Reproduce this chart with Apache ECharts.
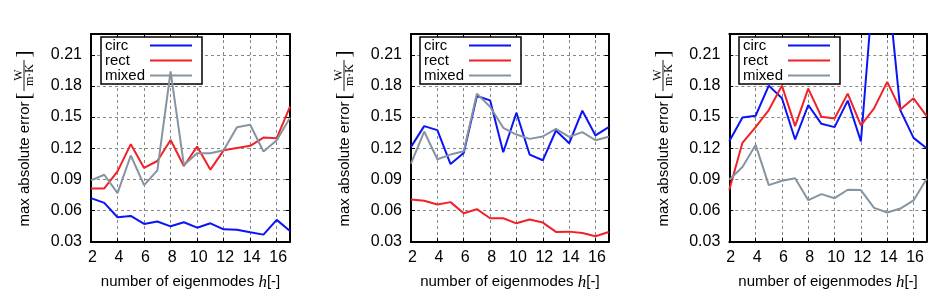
<!DOCTYPE html>
<html>
<head>
<meta charset="utf-8">
<script src="https://cdn.jsdelivr.net/npm/echarts@6/dist/echarts.min.js"></script>
<style>
  html, body { margin: 0; padding: 0; background: #fff; }
  #chart { width: 934px; height: 296px; }
</style>
</head>
<body>
<div id="chart"></div>
<script>
  // number of eigenmodes h
  const modes = [2, 3, 4, 5, 6, 7, 8, 9, 10, 11, 12, 13, 14, 15, 16, 17];

  // left panel
  const circA  = [0.072, 0.0674, 0.0535, 0.0548, 0.0471, 0.0494, 0.0448, 0.0487, 0.0435, 0.0477, 0.0419, 0.0416, 0.039, 0.0368, 0.051, 0.0403];
  const rectA  = [0.0813, 0.0813, 0.0977, 0.1239, 0.101, 0.1077, 0.128, 0.1029, 0.1216, 0.0994, 0.118, 0.1203, 0.1223, 0.1303, 0.1297, 0.16];
  const mixedA = [0.089, 0.0945, 0.0768, 0.113, 0.0845, 0.0987, 0.194, 0.1039, 0.1152, 0.1152, 0.118, 0.1403, 0.1426, 0.1168, 0.1277, 0.1494];

  // middle panel
  const circB  = [0.1213, 0.1413, 0.1374, 0.1048, 0.1155, 0.1703, 0.1661, 0.1161, 0.1542, 0.1139, 0.1084, 0.1371, 0.1248, 0.1561, 0.1323, 0.1403];
  const rectB  = [0.0706, 0.0694, 0.0658, 0.0681, 0.0574, 0.0613, 0.0526, 0.0526, 0.0477, 0.0513, 0.0484, 0.0394, 0.0397, 0.0384, 0.0352, 0.0394];
  const mixedB = [0.1052, 0.1361, 0.1094, 0.1139, 0.1171, 0.1726, 0.16, 0.1397, 0.1332, 0.129, 0.1313, 0.1387, 0.131, 0.1355, 0.1277, 0.131];

  // right panel
  const circC  = [0.1268, 0.1497, 0.1513, 0.1803, 0.1681, 0.1284, 0.1616, 0.1435, 0.1403, 0.1658, 0.1265, 0.285, 0.283, 0.1565, 0.13, 0.12];
  const rectC  = [0.08, 0.1252, 0.1403, 0.1568, 0.1803, 0.1413, 0.1774, 0.1503, 0.1487, 0.1726, 0.1419, 0.1584, 0.1839, 0.1574, 0.1681, 0.151];
  const mixedC = [0.0897, 0.102, 0.1232, 0.0845, 0.0887, 0.091, 0.07, 0.0758, 0.0719, 0.08, 0.0797, 0.0626, 0.0581, 0.0619, 0.0697, 0.0906];

  const names = ['circ', 'rect', 'mixed'];
  const colors = ['#0a14f5', '#f02228', '#8594a0'];

  const panels = [
    { left: 91, width: 199, legendLeft: 101, labelX: 25, lines: [circA, rectA, mixedA] },
    { left: 411, width: 197.7, legendLeft: 420, labelX: 345, lines: [circB, rectB, mixedB] },
    { left: 729.3, width: 197.4, legendLeft: 739, labelX: 664, lines: [circC, rectC, mixedC] }
  ];

  const sans = 'Liberation Sans';
  const serif = 'Liberation Serif';

  const grid = [], xAxis = [], yAxis = [], series = [], legend = [], graphic = [];

  panels.forEach((p, i) => {
    grid.push({ left: p.left, top: 34, width: p.width, height: 207.7 });

    const xBase = {
      type: 'value', gridIndex: i, min: 2, max: 17, interval: 2,
      axisLine: { onZero: false, lineStyle: { color: '#000', width: 2 } },
      axisTick: { inside: true, length: 4, lineStyle: { color: '#000', width: 1 } }
    };
    xAxis.push(Object.assign({}, xBase, {
      position: 'bottom',
      axisLabel: { fontSize: 16, fontFamily: sans, color: '#000', margin: 8, showMaxLabel: false, padding: [0, 0, 0, 3] },
      splitLine: { show: true, lineStyle: { color: '#888', width: 1, type: [3, 3] } },
      name: '{a|number of eigenmodes }{b|h}{a|[-]}',
      nameLocation: 'middle', nameGap: 32,
      nameTextStyle: {
        rich: {
          a: { fontSize: 15, fontFamily: sans, color: '#000' },
          b: { fontSize: 17, fontFamily: serif, fontStyle: 'italic', color: '#000' }
        }
      }
    }));
    xAxis.push(Object.assign({}, xBase, {
      position: 'top', axisLabel: { show: false }, splitLine: { show: false }
    }));

    const yBase = {
      type: 'value', gridIndex: i, min: 0.03, max: 0.23, interval: 0.03,
      axisLine: { onZero: false, lineStyle: { color: '#000', width: 2 } },
      axisTick: { inside: true, length: 4, lineStyle: { color: '#000', width: 1 } }
    };
    yAxis.push(Object.assign({}, yBase, {
      position: 'left',
      axisLabel: { fontSize: 16, fontFamily: sans, color: '#000', margin: 9, showMaxLabel: false,
        formatter: v => v.toFixed(2) },
      splitLine: { show: true, lineStyle: { color: '#888', width: 1, type: [3, 3] } }
    }));
    yAxis.push(Object.assign({}, yBase, {
      position: 'right', axisLabel: { show: false }, splitLine: { show: false }
    }));

    p.lines.forEach((vals, k) => {
      series.push({
        name: names[k], type: 'line',
        xAxisIndex: 2 * i, yAxisIndex: 2 * i,
        data: modes.map((h, j) => [h, vals[j]]),
        symbol: 'none', clip: true, z: 3,
        color: colors[k],
        lineStyle: { color: colors[k], width: 2 }
      });
    });

    legend.push({
      left: p.legendLeft, top: 37,
      orient: 'vertical', align: 'right',
      data: names, icon: 'rect', itemWidth: 42, itemHeight: 2, itemGap: 0,
      padding: [1, 10, 1, 4],
      backgroundColor: '#fff', borderColor: '#000', borderWidth: 1.5, borderRadius: 0,
      z: 1, selectedMode: false,
      formatter: '{t|{name}}',
      textStyle: { rich: { t: { width: 40, align: 'left', fontSize: 15, fontFamily: sans, color: '#000', lineHeight: 15 } } }
    });

    // y axis title, rotated, with the W/(m.K) fraction
    const lx = p.labelX;
    const rot = Math.PI / 2;
    graphic.push(
      { type: 'text', x: lx, y: 164, rotation: rot,
        style: { text: 'max absolute error', font: '15px "Liberation Sans"', fill: '#000', align: 'center', verticalAlign: 'middle' } },
      { type: 'text', x: lx - 1, y: 96, rotation: rot,
        style: { text: '[', font: '21px "Liberation Serif"', fill: '#000', align: 'center', verticalAlign: 'middle' } },
      { type: 'text', x: lx - 6.5, y: 75, rotation: rot,
        style: { text: 'W', font: '12px "Liberation Serif"', fill: '#000', align: 'center', verticalAlign: 'middle' } },
      { type: 'line', shape: { x1: lx - 1, y1: 91, x2: lx - 1, y2: 60 },
        style: { stroke: '#000', lineWidth: 0.9 } },
      { type: 'text', x: lx + 5, y: 75, rotation: rot,
        style: { text: 'm·K', font: '12px "Liberation Serif"', fill: '#000', align: 'center', verticalAlign: 'middle' } },
      { type: 'text', x: lx - 1, y: 54, rotation: rot,
        style: { text: ']', font: '21px "Liberation Serif"', fill: '#000', align: 'center', verticalAlign: 'middle' } }
    );
  });

  const myChart = echarts.init(document.getElementById('chart'), null, { renderer: 'canvas' });
  myChart.setOption({
    animation: false,
    backgroundColor: '#fff',
    grid, xAxis, yAxis, series, legend, graphic
  });
</script>
</body>
</html>
